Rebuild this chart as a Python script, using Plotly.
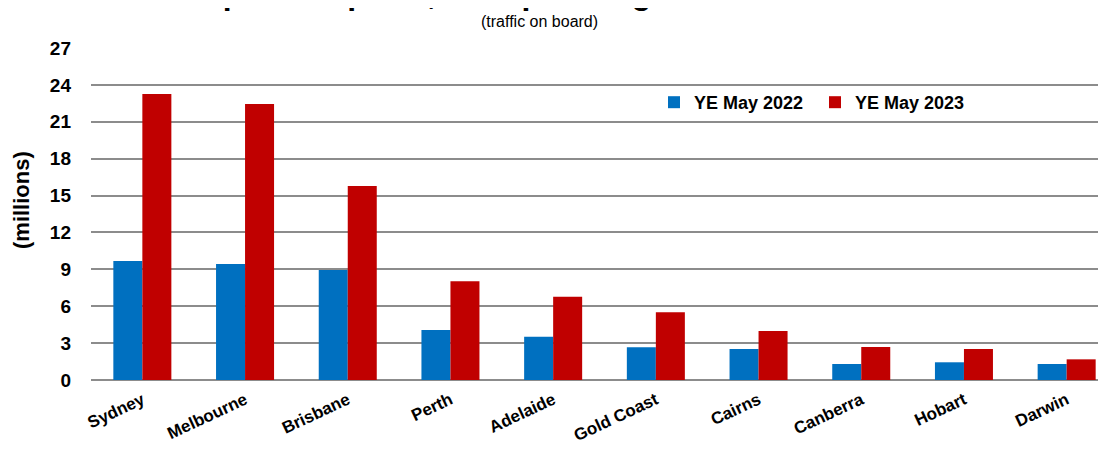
import plotly.graph_objects as go

airports = ["Sydney", "Melbourne", "Brisbane", "Perth", "Adelaide",
            "Gold Coast", "Cairns", "Canberra", "Hobart", "Darwin"]
ye_may_2022 = [9.67, 9.43, 8.94, 4.07, 3.52, 2.66, 2.52, 1.30, 1.44, 1.30]
ye_may_2023 = [23.25, 22.44, 15.77, 8.03, 6.77, 5.50, 3.98, 2.68, 2.52, 1.68]
y_ticks = [0, 3, 6, 9, 12, 15, 18, 21, 24, 27]

W, H = 1106, 452
ML, MR, MT, MB = 83, 0, 40, 80
PW, PH = W - ML - MR, H - MT - MB
CAT = 102.7  # px per category


def px_x(x):
    return (x - ML) / PW


def px_y(y):
    return 1 - (y - MT) / PH


FONT = "Liberation Sans, Arial, sans-serif"

fig = go.Figure()
fig.add_trace(go.Bar(name="YE May 2022", x=airports, y=ye_may_2022,
                     marker=dict(color="#0070C0", line=dict(width=0))))
fig.add_trace(go.Bar(name="YE May 2023", x=airports, y=ye_may_2023,
                     marker=dict(color="#C00000", line=dict(width=0))))

fig.update_layout(
    width=W, height=H,
    margin=dict(l=ML, r=MR, t=MT, b=MB, pad=0, autoexpand=False),
    paper_bgcolor="white", plot_bgcolor="white",
    barmode="group", bargap=0.435, bargroupgap=0,
    font=dict(family=FONT, color="black"),
    showlegend=True,
    legend=dict(orientation="h", x=px_x(646), y=px_y(76), xanchor="left", yanchor="top",
                font=dict(size=18, family=FONT, weight="bold"),
                bgcolor="rgba(0,0,0,0)", itemwidth=30, tracegroupgap=0,
                entrywidth=116),
    xaxis=dict(range=[-0.5, -0.5 + PW / CAT],
               tickangle=-25, showgrid=False, showline=False, ticks="",
               ticklabelstandoff=6, automargin=False,
               tickfont=dict(size=17, family=FONT, weight="bold")),
    yaxis=dict(range=[0, 27], tickvals=y_ticks, ticktext=[str(v) for v in y_ticks],
               showgrid=True, gridcolor="#8c8c8c", gridwidth=2,
               zeroline=True, zerolinecolor="#8c8c8c", zerolinewidth=2,
               showline=False, ticks="", ticklabelstandoff=19, automargin=False,
               tickfont=dict(size=19, family=FONT, weight="bold")),
    annotations=[
        dict(text="(millions)", xref="paper", yref="paper",
             x=px_x(14), y=px_y(192), textangle=-90,
             xanchor="center", yanchor="middle", showarrow=False,
             font=dict(size=22, family=FONT, weight="bold")),
        dict(text="(traffic on board)", xref="paper", yref="paper",
             x=px_x(531), y=px_y(14),
             xanchor="center", yanchor="middle", showarrow=False,
             font=dict(size=16, family=FONT)),
        dict(text="Top ten airports, total passengers", xref="paper", yref="paper",
             x=px_x(176), y=px_y(5),
             xanchor="left", yanchor="bottom", showarrow=False,
             font=dict(size=32, family=FONT, weight="bold")),
    ],
)

fig.write_html("out.html")
